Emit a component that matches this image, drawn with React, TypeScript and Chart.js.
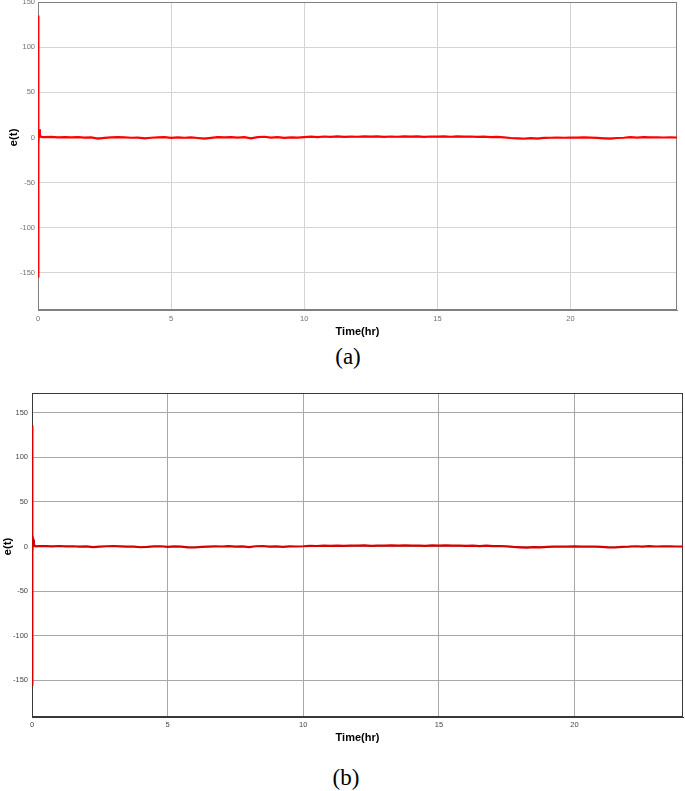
import React, { useEffect, useRef } from "react";
import { Chart, registerables } from "chart.js";

Chart.register(...registerables);

// ---- data ----
const xTicks = [0, 5, 10, 15, 20];
const yTicks = [-150, -100, -50, 0, 50, 100, 150];

// initial transient (hours, e(t))
const spikeTimes = [0, 0.004, 0.012, 0.022, 0.04, 0.07, 0.1, 0.15];
const spikeA = [135, -155, 18, -8, 9, 3, 1, 0.3];
const spikeB = [136, -156, 16, -7, 8, 2.5, 0.8, 0.2];

// steady-state part, every 0.25 hr from 0.25 to 24
const steadyTimes = [
  0.25, 0.5, 0.75, 1, 1.25, 1.5, 1.75, 2, 2.25, 2.5, 2.75, 3, 3.25, 3.5, 3.75, 4,
  4.25, 4.5, 4.75, 5, 5.25, 5.5, 5.75, 6, 6.25, 6.5, 6.75, 7, 7.25, 7.5, 7.75, 8,
  8.25, 8.5, 8.75, 9, 9.25, 9.5, 9.75, 10, 10.25, 10.5, 10.75, 11, 11.25, 11.5, 11.75, 12,
  12.25, 12.5, 12.75, 13, 13.25, 13.5, 13.75, 14, 14.25, 14.5, 14.75, 15, 15.25, 15.5, 15.75, 16,
  16.25, 16.5, 16.75, 17, 17.25, 17.5, 17.75, 18, 18.25, 18.5, 18.75, 19, 19.25, 19.5, 19.75, 20,
  20.25, 20.5, 20.75, 21, 21.25, 21.5, 21.75, 22, 22.25, 22.5, 22.75, 23, 23.25, 23.5, 23.75, 24,
];
const steadyA = [
  0.3, 0.6, 0.2, 0.5, 0.1, 0.4, -0.2, 0.1, -1.2, -0.4, 0.2, 0.5, 0.1, -0.3, -0.2, -1.0,
  -0.3, 0.2, 0.4, -0.5, 0.2, -0.3, 0.1, -0.6, -1.3, -0.4, 0.3, 0.1, 0.5, -0.2, 0.3, -0.9,
  0.4, 0.8, -0.2, 0.3, -0.4, 0.2, -0.1, 0.4, 0.9, 0.5, 1.1, 0.7, 1.2, 0.6, 1.0, 0.8,
  1.3, 0.9, 1.2, 0.7, 1.1, 0.8, 1.3, 0.9, 1.2, 0.7, 1.1, 0.9, 1.3, 0.8, 1.2, 0.9,
  1.1, 0.6, 1.0, 0.5, 0.7, 0.2, -0.6, -1.0, -1.4, -0.7, -1.2, -0.5, -0.3, -0.1, -0.3, 0.0,
  -0.2, 0.1, -0.1, -0.4, -0.9, -1.3, -0.6, -0.3, 0.4, -0.2, 0.5, 0.1, 0.2, 0.0, 0.1, 0.0,
];
const steadyB = [
  0.4, 0.5, 0.1, 0.6, 0.2, 0.3, -0.1, 0.2, -0.6, -0.2, 0.3, 0.6, 0.2, -0.2, -0.1, -0.8,
  -0.5, 0.1, 0.3, -0.4, 0.1, -0.2, -0.9, -1.1, -0.5, -0.2, 0.2, 0.0, 0.4, -0.1, 0.2, -0.7,
  0.3, 0.6, -0.1, 0.2, -0.3, 0.1, 0.0, 0.3, 0.8, 0.6, 1.0, 0.8, 1.1, 0.7, 1.0, 0.9,
  1.2, 0.8, 1.1, 0.9, 1.2, 0.9, 1.3, 1.0, 1.1, 0.8, 1.2, 1.0, 1.2, 0.9, 1.1, 0.8,
  1.0, 0.5, 0.9, 0.4, 0.6, 0.1, -0.5, -0.9, -1.2, -0.6, -1.0, -0.4, -0.2, -0.1, -0.2, 0.1,
  -0.1, 0.0, -0.2, -0.5, -1.0, -1.1, -0.4, -0.2, 0.3, -0.1, 0.4, 0.0, 0.2, 0.1, 0.0, 0.0,
];

const xLabel = "Time(hr)";
const yLabel = "e(t)";

type Panel = {
  top: number;
  height: number;
  padTop: number;
  padRight: number;
  padBottom: number;
  yAxisWidth: number;
  xAxisHeight: number;
  yMin: number;
  yMax: number;
  xMax: number;
  lineColor: string;
  gridColor: string;
  borderColor: string;
  tickColor: string;
  yTickPad: number;
  xTickPad: number;
  yTitleX: number;
  spike: number[];
  steady: number[];
};

const panelA: Panel = {
  top: 0, height: 340, padTop: 2, padRight: 8, padBottom: 1,
  yAxisWidth: 38, xAxisHeight: 29, yMin: -191, yMax: 150, xMax: 24,
  lineColor: "#ff0000", gridColor: "#d4d4d4", borderColor: "#808080", tickColor: "#707070",
  yTickPad: 3, xTickPad: 4, yTitleX: 14, spike: spikeA, steady: steadyA,
};
const panelB: Panel = {
  top: 385, height: 365, padTop: 8, padRight: 2, padBottom: 5,
  yAxisWidth: 32, xAxisHeight: 28, yMin: -191, yMax: 172, xMax: 24,
  lineColor: "#d40000", gridColor: "#a8a8a8", borderColor: "#383838", tickColor: "#444444",
  yTickPad: 4, xTickPad: 3.5, yTitleX: 7.5, spike: spikeB, steady: steadyB,
};

const FONT = '"Liberation Sans", Arial, sans-serif';

const framePlugin = {
  id: "frame",
  beforeDatasetsDraw(chart: any, _a: any, opts: any) {
    const { ctx, chartArea: a } = chart;
    ctx.save();
    ctx.strokeStyle = opts.color;
    ctx.lineWidth = 1;
    ctx.strokeRect(a.left + 0.5, a.top + 0.5, a.right - a.left - 1, a.bottom - a.top - 1);
    ctx.restore();
  },
  afterDraw(chart: any, _a: any, opts: any) {
    const { ctx } = chart;
    const y = chart.scales.y.getPixelForValue(0);
    ctx.save();
    ctx.translate(opts.titleX, y);
    ctx.rotate(-Math.PI / 2);
    ctx.font = `bold 11.5px ${FONT}`;
    ctx.fillStyle = "#000";
    ctx.textAlign = "center";
    ctx.textBaseline = "middle";
    ctx.fillText(opts.text, 0, 0);
    ctx.restore();
  },
};

function ChartPanel({ p }: { p: Panel }) {
  const ref = useRef<HTMLCanvasElement | null>(null);
  useEffect(() => {
    if (!ref.current) return;
    const times = [...spikeTimes, ...steadyTimes];
    const vals = [...p.spike, ...p.steady];
    const data = times.map((t, i) => ({ x: t, y: vals[i] }));
    const chart = new Chart(ref.current, {
      type: "line",
      data: {
        datasets: [
          {
            data,
            borderColor: p.lineColor,
            borderWidth: 2.2,
            pointRadius: 0,
            tension: 0,
            fill: false,
          },
        ],
      },
      options: {
        animation: false,
        responsive: false,
        maintainAspectRatio: false,
        devicePixelRatio: 1,
        layout: { padding: { top: p.padTop, right: p.padRight, bottom: p.padBottom, left: 0 } },
        plugins: {
          legend: { display: false },
          tooltip: { enabled: false },
          frame: { color: p.borderColor, titleX: p.yTitleX, text: yLabel },
        } as any,
        scales: {
          x: {
            type: "linear",
            min: 0,
            max: p.xMax,
            afterBuildTicks: (s: any) => {
              s.ticks = xTicks.map((v) => ({ value: v }));
            },
            afterFit: (s: any) => {
              s.height = p.xAxisHeight;
              s.paddingLeft = 0;
              s.paddingRight = 0;
            },
            grid: { color: p.gridColor, drawTicks: false, lineWidth: 1 },
            border: { color: p.borderColor, width: 1 },
            ticks: {
              color: p.tickColor,
              font: { family: FONT, size: 7.5 },
              padding: p.xTickPad,
              maxRotation: 0,
              autoSkip: false,
            },
            title: {
              display: true,
              text: xLabel,
              color: "#000",
              font: { family: FONT, size: 11, weight: "bold" },
              padding: { top: 0, bottom: 0 },
            },
          },
          y: {
            type: "linear",
            min: p.yMin,
            max: p.yMax,
            afterBuildTicks: (s: any) => {
              s.ticks = yTicks.map((v) => ({ value: v }));
            },
            afterFit: (s: any) => {
              s.width = p.yAxisWidth;
              s.paddingTop = 0;
              s.paddingBottom = 0;
            },
            grid: { color: p.gridColor, drawTicks: false, lineWidth: 1 },
            border: { color: p.borderColor, width: 1 },
            ticks: {
              color: p.tickColor,
              font: { family: FONT, size: 7.5 },
              padding: p.yTickPad,
              autoSkip: false,
            },
          },
        },
      },
      plugins: [framePlugin as any],
    });
    return () => chart.destroy();
  }, [p]);
  return (
    <canvas
      ref={ref}
      width={685}
      height={p.height}
      style={{ position: "absolute", left: 0, top: p.top, width: 685, height: p.height }}
    />
  );
}

const captionStyle: React.CSSProperties = {
  position: "absolute",
  fontFamily: '"Liberation Serif", "Times New Roman", serif',
  fontSize: 23,
  lineHeight: "26px",
  color: "#000",
  transform: "translate(-50%, -50%)",
  whiteSpace: "nowrap",
};

export default function App() {
  return (
    <div
      style={{
        position: "absolute",
        left: 0,
        top: 0,
        width: 685,
        height: 791,
        background: "#fff",
        overflow: "hidden",
      }}
    >
      <ChartPanel p={panelA} />
      <div style={{ ...captionStyle, left: 348, top: 357 }}>(a)</div>
      <ChartPanel p={panelB} />
      <div style={{ ...captionStyle, left: 346, top: 778 }}>(b)</div>
    </div>
  );
}
